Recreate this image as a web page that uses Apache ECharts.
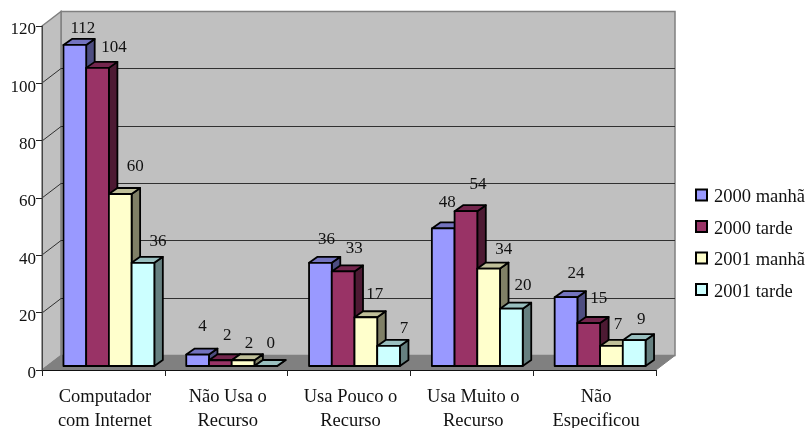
<!DOCTYPE html>
<html>
<head>
<meta charset="utf-8">
<style>html,body{margin:0;padding:0;background:#fff}#c{width:808px;height:428px}</style>
<script src="https://cdn.jsdelivr.net/npm/echarts@6/dist/echarts.min.js"></script>
</head>
<body>
<div id="c"></div>
<script>
var categories = ['Computador\ncom Internet', 'Não Usa o\nRecurso', 'Usa Pouco o\nRecurso', 'Usa Muito o\nRecurso', 'Não\nEspecificou'];
var manha2000 = [112, 4, 36, 48, 24];
var tarde2000 = [104, 2, 33, 54, 15];
var manha2001 = [60, 2, 17, 34, 7];
var tarde2001 = [36, 0, 7, 20, 9];
var yTicks = [0, 20, 40, 60, 80, 100, 120];
var seriesNames = ['2000 manhã', '2000 tarde', '2001 manhã', '2001 tarde'];

// styling tables (not data)
var faceColors = ['#9999FF', '#993366', '#FFFFCC', '#CCFFFF'];
var topColors = ['#7373BF', '#73264D', '#BFBF99', '#99BFBF'];
var sideColors = ['#4D4D80', '#4D1A33', '#808066', '#668080'];
var labelDx = [[8, 5, 6, 4, 10], [16.5, 7, 11, 12, 10], [15, 6, 9, 15, 6.5], [15, 5, 15.5, 11.5, 7]];
var labelDy = [[-18, -29.5, -25, -27.5, -25], [-22, -26, -24.5, -28, -26], [-29, -18, -24, -20.5, -23], [-23, -24, -19, -24.5, -22]];

var DEPTH_X = 19, DEPTH_Y = -14.5;   // floor depth of the 3-D box
var BAR_DX = 5.5, BAR_DY = -4;       // bar front offset into the box
var BAR_DEPTH_X = 8.5, BAR_DEPTH_Y = -6;
var BAR_SHARE = 0.185;
var FONT = '"Liberation Serif","Times New Roman",serif';
var FS = 18.5, FS_NUM = 17;

function wallsRender(params, api) {
  var cs = params.coordSys;
  var l = cs.x, r = cs.x + cs.width, t = cs.y, b = cs.y + cs.height;
  var ch = [
    { type: 'polygon', shape: { points: [[l + DEPTH_X, t + DEPTH_Y], [r + DEPTH_X, t + DEPTH_Y], [r + DEPTH_X, b + DEPTH_Y], [l + DEPTH_X, b + DEPTH_Y]] },
      style: { fill: '#C0C0C0', stroke: '#808080', lineWidth: 1.5 } },
    { type: 'polygon', shape: { points: [[l, t], [l + DEPTH_X, t + DEPTH_Y], [l + DEPTH_X, b + DEPTH_Y], [l, b]] },
      style: { fill: '#C0C0C0', stroke: '#808080', lineWidth: 1.5 } },
    { type: 'polygon', shape: { points: [[l, b], [l + DEPTH_X, b + DEPTH_Y], [r + DEPTH_X, b + DEPTH_Y], [r, b]] },
      style: { fill: '#808080', stroke: '#808080', lineWidth: 1 } }
  ];
  yTicks.forEach(function (v) {
    if (v === 0 || v === 120) return;
    var y = Math.round(api.coord([0, v])[1]);
    ch.push({ type: 'polyline', shape: { points: [[l, y], [l + DEPTH_X, y + DEPTH_Y], [r + DEPTH_X, y + DEPTH_Y]] },
      style: { fill: 'none', stroke: '#303030', lineWidth: 1 } });
  });
  return { type: 'group', children: ch };
}

function barRender(s) {
  return function (params, api) {
    var idx = api.value(0), val = api.value(1);
    var band = api.size([1, 0])[0];
    var w = band * BAR_SHARE;
    var p0 = api.coord([idx, 0]);
    var pv = api.coord([idx, val]);
    var cx = p0[0] + BAR_DX + (s - 1.5) * w;
    var x0 = cx - w / 2, x1 = cx + w / 2;
    var yb = p0[1] + BAR_DY, yt = pv[1] + BAR_DY;
    var ddx = BAR_DEPTH_X, ddy = BAR_DEPTH_Y;
    var stroke = { stroke: '#000', lineWidth: 1.8, lineJoin: 'round' };
    return {
      type: 'group',
      children: [
        { type: 'polygon', z2: 10 + s, shape: { points: [[x1, yb], [x1 + ddx, yb + ddy], [x1 + ddx, yt + ddy], [x1, yt]] },
          style: Object.assign({ fill: sideColors[s] }, stroke) },
        { type: 'polygon', z2: 10 + s, shape: { points: [[x0, yt], [x0 + ddx, yt + ddy], [x1 + ddx, yt + ddy], [x1, yt]] },
          style: Object.assign({ fill: topColors[s] }, stroke) },
        { type: 'polygon', z2: 10 + s, shape: { points: [[x0, yb], [x1, yb], [x1, yt], [x0, yt]] },
          style: Object.assign({ fill: faceColors[s] }, stroke) },
        { type: 'text', z2: 100, style: { x: cx + labelDx[s][idx], y: yt + labelDy[s][idx] + 1.5, text: String(val),
            font: FS_NUM + 'px ' + FONT, fill: '#111', align: 'center', verticalAlign: 'middle' } }
      ]
    };
  };
}

function pairs(arr) { return arr.map(function (v, i) { return [i, v]; }); }
var seriesValues = [manha2000, tarde2000, manha2001, tarde2001];

var series = [{ type: 'custom', silent: true, z: 1, renderItem: wallsRender, data: [[0, 0]], encode: { x: 0, y: 1 } }];
seriesNames.forEach(function (n, s) {
  series.push({
    name: n, type: 'custom', silent: true, z: 2, renderItem: barRender(s),
    encode: { x: 0, y: 1 }, data: pairs(seriesValues[s]),
    itemStyle: { color: faceColors[s], borderColor: '#000', borderWidth: 1.8 }
  });
});

var chart = echarts.init(document.getElementById('c'), null, { renderer: 'canvas' });
chart.setOption({
  animation: false,
  backgroundColor: '#fff',
  grid: { left: 42, right: 152, top: 26, bottom: 58, containLabel: false, outerBoundsMode: 'none' },
  legend: {
    orient: 'vertical', left: 690, top: 178, itemWidth: 11, itemHeight: 11, itemGap: 7.5,
    icon: 'rect', data: seriesNames, selectedMode: false,
    formatter: function (n) { return '{a|' + n + '}'; },
    textStyle: {
      rich: { a: { fontFamily: FONT, fontSize: FS, color: '#111', padding: [5, 0, 0, 2], lineHeight: 18 } }
    }
  },
  xAxis: {
    type: 'category', data: categories, boundaryGap: true, z: 5,
    axisLine: { lineStyle: { color: '#111', width: 1 } },
    axisTick: { show: true, alignWithLabel: false, length: 6, lineStyle: { color: '#222' } },
    axisLabel: {
      interval: 0, margin: 15,
      formatter: function (v) { return v.split('\n').map(function (l) { return '{a|' + l + '}'; }).join('\n'); },
      rich: { a: { fontFamily: FONT, fontSize: FS, lineHeight: 24, color: '#111', padding: [0, 0, 0, 3] } }
    },
    splitLine: { show: false }
  },
  yAxis: {
    type: 'value', min: 0, max: 120, interval: 20, z: 5,
    axisLine: { show: true, lineStyle: { color: '#444', width: 1 } },
    axisTick: { show: true, length: 6, lineStyle: { color: '#222' } },
    axisLabel: { margin: 6, fontFamily: FONT, fontSize: FS_NUM, color: '#111', verticalAlign: 'top', lineHeight: 8 },
    splitLine: { show: false }
  },
  series: series
});
</script>
</body>
</html>
